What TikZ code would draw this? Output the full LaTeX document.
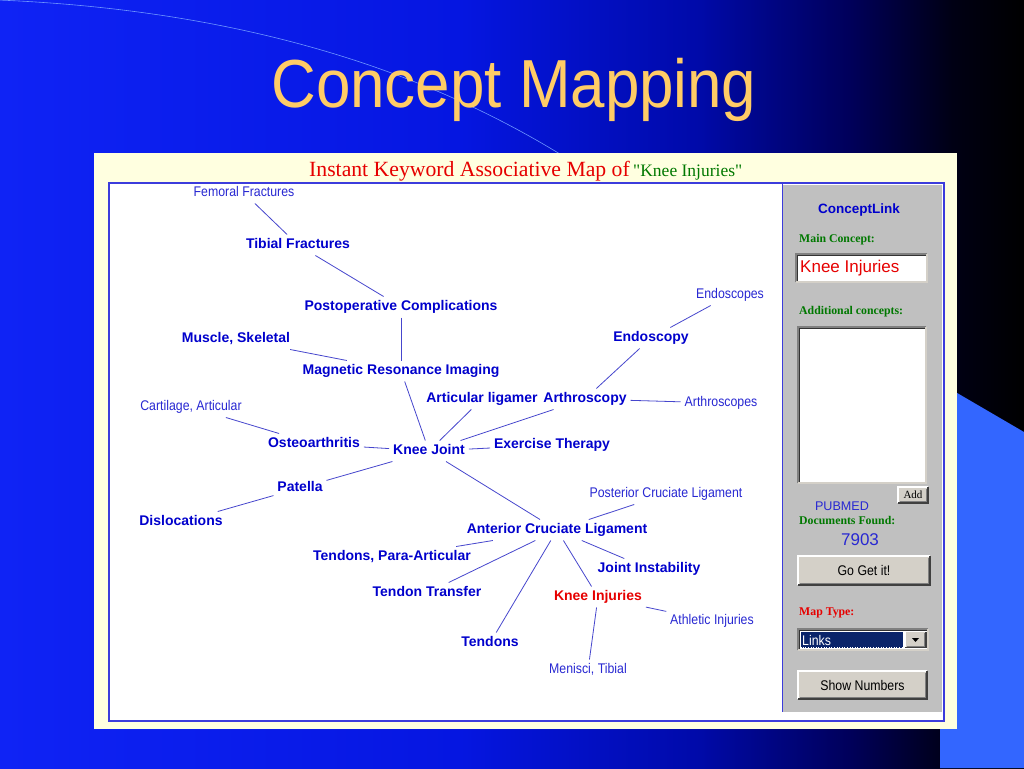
\documentclass[tikz,border=0pt]{standalone}
\usepackage{fontspec}
\setmainfont{Liberation Sans}
\setmonofont{Liberation Serif}
\newfontfamily\nsans[FakeStretch=0.88]{Liberation Sans}
\newfontfamily\tsans[FakeStretch=0.91]{Liberation Sans}
\newfontfamily\rserif{Liberation Serif}
\definecolor{bgA}{RGB}{15,35,245}
\definecolor{bgB}{RGB}{5,22,225}
\definecolor{bgC}{RGB}{0,10,170}
\definecolor{bgD}{RGB}{0,0,90}
\definecolor{bgE}{RGB}{0,0,20}
\definecolor{bgF}{RGB}{0,0,0}
\definecolor{titley}{RGB}{255,204,102}
\definecolor{paneY}{RGB}{255,255,224}
\definecolor{mapblue}{RGB}{0,0,204}
\definecolor{mapblue2}{RGB}{40,40,210}
\definecolor{linkblue}{RGB}{70,70,205}
\definecolor{frameblue}{RGB}{60,60,220}
\definecolor{lightblue}{RGB}{51,102,255}
\definecolor{arcblue}{RGB}{110,150,255}
\definecolor{wingray}{RGB}{192,192,192}
\definecolor{btngray}{RGB}{212,208,200}
\definecolor{dgreen}{RGB}{0,120,0}
\definecolor{kred}{RGB}{230,0,0}
\definecolor{selnavy}{RGB}{10,36,106}
\pgfdeclarehorizontalshading{bgshade}{100bp}{color(0bp)=(bgA); color(25bp)=(bgA); color(47.5bp)=(bgB); color(59bp)=(bgC); color(66.5bp)=(bgD); color(71.5bp)=(bgE); color(75bp)=(bgF); color(100bp)=(bgF)}
\newcommand\mkbutton[4]{%
  \fill[btngray] (#1,#2) rectangle (#3,#4);
  \draw[white, line width=1.2pt] (#1,#4) -- (#1,#2) -- (#3,#2);
  \draw[black!75, line width=1.2pt] (#3,#2) -- (#3,#4) -- (#1,#4);
  \draw[gray, line width=0.8pt] (#1+1.5,#4-1.5) -- (#3-1.5,#4-1.5) -- (#3-1.5,#2+1.5);}
\newcommand\mksunken[4]{%
  \fill[white] (#1,#2) rectangle (#3,#4);
  \draw[gray, line width=1.2pt] (#1,#4) -- (#1,#2) -- (#3,#2);
  \draw[black!80, line width=0.8pt] (#1+1.5,#4-1.5) -- (#1+1.5,#2+1.5) -- (#3-1.5,#2+1.5);
  \draw[btngray, line width=1.2pt] (#3,#2) -- (#3,#4) -- (#1,#4);}
\tikzset{
  mapb/.style={font=\fontsize{14}{16}\selectfont\bfseries, text=mapblue, inner sep=1.5pt, outer sep=2.5pt, text height=10pt, text depth=3pt},
  mapn/.style={font=\nsans\fontsize{14}{16}\selectfont, text=mapblue2, inner sep=1.5pt, outer sep=2.5pt, text height=10pt, text depth=3pt},
  link/.style={draw=linkblue, line width=0.8pt},
  gserif/.style={anchor=west, inner sep=0pt, font=\rserif\bfseries\fontsize{11.8}{13}\selectfont},
  btntext/.style={inner sep=0pt, text=black, font=\nsans\fontsize{14}{16}\selectfont}
}
\begin{document}
\begin{tikzpicture}[x=1pt,y=-1pt]
\useasboundingbox (0,0) rectangle (1024,768);
% background
\shade[shading=bgshade] (0,0) rectangle (1024,768);
\draw[arcblue, line width=0.6pt] (-2,0) .. controls (240,10) and (440,70) .. (600,180);
\fill[lightblue] (940,383) -- (1024,432) -- (1024,768) -- (940,768) -- cycle;
% title
\node[font=\tsans\fontsize{68}{70}\selectfont, text=titley, anchor=base, inner sep=0pt] (title) at (514,107) {Concept Mapping};
% panel
\fill[paneY] (94,153) rectangle (957,729);
\node[anchor=base west, inner sep=0pt, font=\rserif\fontsize{21.7}{24}\selectfont, text=kred] (ptitle) at (309,176) {Instant Keyword Associative Map of};
\node[anchor=base west, inner sep=0pt, font=\rserif\fontsize{17.5}{20}\selectfont, text=dgreen] (pkw) at (633,176) {{\ttfamily"}Knee Injuries{\ttfamily"}};
\filldraw[fill=white, draw=frameblue, line width=1.5pt] (109,183) rectangle (944,721);
\fill[wingray] (783,185) rectangle (942,712);
\draw[frameblue, line width=1pt] (782.5,183) -- (782.5,712);
% map nodes
\node[mapn] (ff) at (244,193) {Femoral Fractures};
\node[mapb] (tf) at (298,245) {Tibial Fractures};
\node[mapb] (pc) at (401,307) {Postoperative Complications};
\node[mapb] (ms) at (236,339) {Muscle, Skeletal};
\node[mapb] (mri) at (401,371) {Magnetic Resonance Imaging};
\node[mapn] (ca) at (191,407) {Cartilage, Articular};
\node[mapb] (oa) at (314,444) {Osteoarthritis};
\node[mapb] (kj) at (429,451) {Knee Joint};
\node[mapb] (al) at (482,399) {Articular ligamer};
\node[mapb] (ar) at (585,399) {Arthroscopy};
\node[mapb] (en) at (651,338) {Endoscopy};
\node[mapn] (es) at (730,295) {Endoscopes};
\node[mapn] (as) at (721,403) {Arthroscopes};
\node[mapb] (et) at (552,445) {Exercise Therapy};
\node[mapb] (pa) at (300,488) {Patella};
\node[mapb] (di) at (181,522) {Dislocations};
\node[mapn] (pcl) at (666,494) {Posterior Cruciate Ligament};
\node[mapb] (acl) at (557,530) {Anterior Cruciate Ligament};
\node[mapb] (tpa) at (392,557) {Tendons, Para-Articular};
\node[mapb] (ji) at (649,569) {Joint Instability};
\node[mapb] (tt) at (427,593) {Tendon Transfer};
\node[mapb, text=kred] (ki) at (598,597) {Knee Injuries};
\node[mapn] (ai) at (712,621) {Athletic Injuries};
\node[mapb] (te) at (490,643) {Tendons};
\node[mapn] (mt) at (588,670) {Menisci, Tibial};
% links
\draw[link] (ff) -- (tf);
\draw[link] (tf) -- (pc);
\draw[link] (pc) -- (mri);
\draw[link] (ms) -- (mri);
\draw[link] (mri) -- (kj);
\draw[link] (ca) -- (oa);
\draw[link] (oa) -- (kj);
\draw[link] (kj) -- (al);
\draw[link] (kj) -- (ar);
\draw[link] (kj) -- (et);
\draw[link] (kj) -- (pa);
\draw[link] (pa) -- (di);
\draw[link] (kj) -- (acl);
\draw[link] (ar) -- (en);
\draw[link] (en) -- (es);
\draw[link] (ar) -- (as);
\draw[link] (acl) -- (pcl);
\draw[link] (acl) -- (tpa);
\draw[link] (acl) -- (tt);
\draw[link] (acl) -- (te);
\draw[link] (acl) -- (ki);
\draw[link] (acl) -- (ji);
\draw[link] (ki) -- (mt);
\draw[link] (ki) -- (ai);
% side panel
\node[font=\fontsize{13.5}{15}\selectfont\bfseries, text=mapblue, inner sep=0pt] (clink) at (859,210) {ConceptLink};
\node[gserif, text=dgreen] (mainc) at (799,240) {Main Concept:};
\mksunken{796}{254}{927}{282}
\node[anchor=west, inner sep=0pt, font=\fontsize{17}{19}\selectfont, text=kred] (mctext) at (800,268) {Knee Injuries};
\node[gserif, text=dgreen] (addc) at (799,312) {Additional concepts:};
\mksunken{798}{327}{926}{483}
\mkbutton{898}{487}{928}{503}
\node[inner sep=0pt, font=\rserif\fontsize{11}{12}\selectfont, text=black] (addt) at (913,495) {Add};
\node[inner sep=0pt, font=\fontsize{12.6}{14}\selectfont, text=mapblue2] (pub) at (842,506) {PUBMED};
\node[gserif, text=dgreen] (docf) at (799,520) {Documents Found:};
\node[inner sep=0pt, font=\fontsize{17}{19}\selectfont, text=mapblue2] (num) at (860,540) {7903};
\mkbutton{798}{556}{930}{585}
\node[btntext] (go) at (864,570.5) {Go Get it!};
\node[gserif, text=kred] (mapt) at (799,613) {Map Type:};
\mksunken{798}{629}{928}{650}
\fill[selnavy] (800.5,631.5) rectangle (903,647.5);
\draw[white, line width=0.6pt, dotted] (800.5,631.5) rectangle (903,647.5);
\node[anchor=west, inner sep=0pt, font=\nsans\fontsize{14}{16}\selectfont, text=white] (links) at (802,640) {Links};
\mkbutton{905}{631.5}{926}{647.5}
\fill[black] (912,638) -- (919,638) -- (915.5,642) -- cycle;
\mkbutton{798}{671}{927}{699}
\node[btntext] (shown) at (862.5,685) {Show Numbers};
\end{tikzpicture}
\end{document}
